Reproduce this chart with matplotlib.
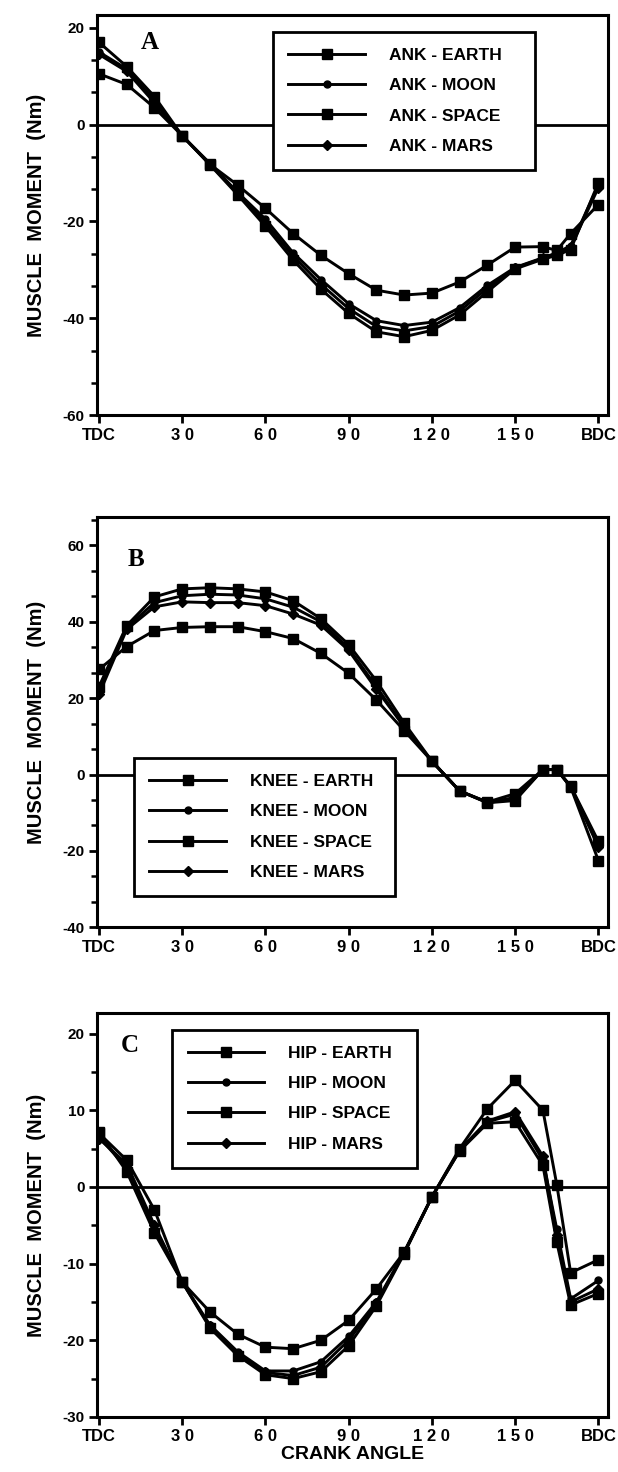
"""Muscle moments over the crank cycle at ankle, knee and hip."""

import matplotlib.pyplot as plt
from matplotlib.ticker import AutoMinorLocator, FixedLocator

crank_angle = [0, 10, 20, 30, 40, 50, 60, 70, 80, 90, 100, 110, 120, 130, 140, 150, 160, 165, 170, 180]
x_tick_pos = [0, 30, 60, 90, 120, 150, 180]
x_tick_labels = ["TDC", "3 0", "6 0", "9 0", "1 2 0", "1 5 0", "BDC"]
conditions = ["EARTH", "MOON", "SPACE", "MARS"]

# panel A - ankle (Nm)
ank_earth = [10.5, 8.3, 3.5, -2.3, -8.2, -12.5, -17.3, -22.5, -27.0, -30.8, -34.2, -35.2, -34.8, -32.5, -29.0, -25.3, -25.2, -26.0, -22.5, -16.5]
ank_moon = [15.0, 11.5, 5.0, -2.3, -8.0, -14.0, -19.5, -26.5, -32.0, -37.0, -40.5, -41.5, -40.8, -37.8, -33.2, -29.5, -27.5, -26.5, -25.0, -12.5]
ank_space = [17.0, 12.0, 5.8, -2.3, -8.3, -14.5, -21.0, -28.0, -34.0, -39.0, -42.8, -43.8, -42.5, -39.3, -34.5, -29.8, -27.8, -27.0, -25.8, -12.0]
ank_mars = [14.5, 11.0, 4.5, -2.3, -8.2, -14.2, -20.3, -27.2, -33.0, -38.0, -41.7, -42.6, -41.7, -38.5, -33.8, -29.6, -27.6, -26.7, -25.3, -13.0]

# panel B - knee (Nm)
knee_earth = [27.5, 33.5, 37.7, 38.5, 38.7, 38.7, 37.4, 35.6, 31.7, 26.5, 19.5, 11.5, 3.5, -4.3, -7.2, -5.0, 1.3, 1.3, -3.0, -17.5]
knee_moon = [22.0, 38.5, 45.0, 46.8, 47.2, 47.0, 46.0, 43.8, 40.0, 33.0, 23.0, 12.5, 3.5, -4.3, -7.3, -6.5, 1.3, 1.3, -3.2, -18.5]
knee_space = [23.0, 39.0, 46.5, 48.6, 48.9, 48.6, 47.8, 45.5, 40.8, 34.0, 24.5, 13.5, 3.5, -4.3, -7.4, -6.8, 1.3, 1.3, -3.3, -22.5]
knee_mars = [21.0, 38.0, 43.9, 45.2, 45.0, 45.0, 44.2, 42.0, 39.1, 32.5, 22.3, 12.5, 3.5, -4.3, -7.3, -6.0, 1.3, 1.3, -3.1, -19.0]

# panel C - hip (Nm)
hip_earth = [7.0, 3.5, -3.0, -12.4, -16.3, -19.2, -20.9, -21.1, -20.0, -17.4, -13.3, -8.5, -1.3, 5.0, 10.2, 13.9, 10.0, 0.3, -11.2, -9.5]
hip_moon = [6.5, 2.5, -5.5, -12.4, -18.0, -21.5, -24.0, -24.0, -22.8, -19.5, -15.0, -8.5, -1.3, 4.8, 8.5, 9.5, 3.5, -5.5, -14.6, -12.2]
hip_space = [7.2, 2.0, -6.0, -12.4, -18.4, -22.0, -24.5, -25.0, -24.1, -20.7, -15.5, -8.7, -1.3, 4.7, 8.3, 8.5, 2.8, -7.2, -15.4, -13.9]
hip_mars = [6.3, 3.0, -5.0, -12.4, -18.2, -21.8, -24.2, -24.6, -23.5, -20.0, -15.2, -8.6, -1.3, 4.8, 8.6, 9.8, 4.0, -6.3, -15.0, -13.3]

SANS = "Liberation Sans"
SERIF = "Liberation Serif"

# marker / size per condition: Earth, Moon, Space, Mars
STYLES = [("s", 6.5), ("o", 5.0), ("s", 6.5), ("D", 5.5)]


def draw_panel(ax, joint, series, ylim, major_step, n_minor, letter, letter_xy, legend_bbox):
    """Draw one joint panel with its four gravity conditions."""
    ax.axhline(0, color="black", lw=2.0, zorder=1)
    for vals, cond, (marker, ms) in zip(series, conditions, STYLES):
        ax.plot(
            crank_angle, vals, color="black", lw=2.1, marker=marker, ms=ms,
            label=f"{joint} - {cond}", zorder=3,
        )

    ax.set_xlim(-0.7, 183.5)
    ax.set_ylim(*ylim)
    ax.xaxis.set_major_locator(FixedLocator(x_tick_pos))
    ax.set_xticklabels(x_tick_labels)
    yt = list(range(int(ylim[0]), int(ylim[1]) + 1, major_step))
    ax.set_yticks(yt)
    ax.set_yticklabels([str(v) for v in yt])
    ax.yaxis.set_minor_locator(AutoMinorLocator(n_minor))

    ax.tick_params(axis="both", which="major", direction="out", length=6, width=2, pad=3)
    ax.tick_params(axis="y", which="minor", direction="out", length=4, width=1.8)
    for lbl in ax.get_xticklabels():
        lbl.set_fontfamily(SANS)
        lbl.set_fontweight("bold")
        lbl.set_fontsize(12)
    for lbl in ax.get_yticklabels():
        lbl.set_fontfamily(SANS)
        lbl.set_fontweight("bold")
        lbl.set_fontsize(11)
    for sp in ax.spines.values():
        sp.set_linewidth(2.2)

    ax.text(
        letter_xy[0], letter_xy[1], letter, transform=ax.transAxes,
        family=SERIF, fontweight="bold", fontsize=18, ha="center", va="center",
    )
    ax.set_ylabel(
        "MUSCLE  MOMENT  (Nm)", family=SANS, fontweight="bold", fontsize=14.5, labelpad=12,
    )

    # legend box: (left, top, width) in axes fraction
    x0, top, w = legend_bbox
    leg = ax.legend(
        loc="upper left", bbox_to_anchor=(x0, top - 0.3, w, 0.3), mode="expand",
        borderaxespad=0,
        prop={"family": SANS, "weight": "bold", "size": 12.5},
        handlelength=4.4, handletextpad=1.4, labelspacing=0.88, borderpad=0.9,
        fancybox=False, framealpha=1, edgecolor="black",
    )
    leg.get_frame().set_linewidth(2.0)


fig = plt.figure(figsize=(6.18, 14.72), dpi=100)

ax_a = fig.add_axes([0.157, 0.718, 0.827, 0.272])
ax_b = fig.add_axes([0.157, 0.370, 0.827, 0.279])
ax_c = fig.add_axes([0.157, 0.0374, 0.827, 0.2745])

draw_panel(
    ax_a, "ANK", [ank_earth, ank_moon, ank_space, ank_mars],
    (-60, 22.7), 20, 3, "A", (0.104, 0.93), (0.344, 0.957, 0.513),
)
draw_panel(
    ax_b, "KNEE", [knee_earth, knee_moon, knee_space, knee_mars],
    (-40, 67.5), 20, 3, "B", (0.077, 0.895), (0.072, 0.412, 0.511),
)
draw_panel(
    ax_c, "HIP", [hip_earth, hip_moon, hip_space, hip_mars],
    (-30, 22.7), 10, 2, "C", (0.065, 0.92), (0.147, 0.958, 0.479),
)
ax_c.set_xlabel("CRANK ANGLE", family=SANS, fontweight="bold", fontsize=14, labelpad=1)

fig.savefig("out.png", dpi=100)
